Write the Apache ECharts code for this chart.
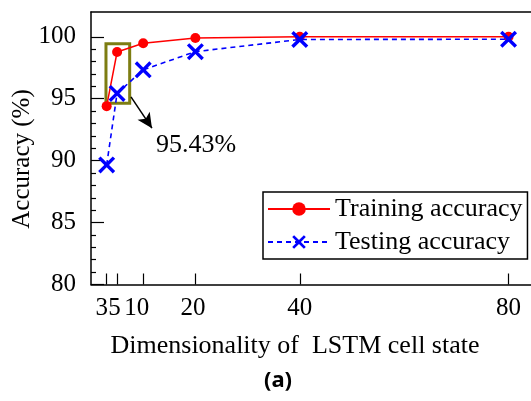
<!DOCTYPE html>
<html>
<head>
<meta charset="utf-8">
<script src="https://cdn.jsdelivr.net/npm/echarts@6/dist/echarts.min.js"></script>
<style>
  html, body { margin: 0; padding: 0; background: #fff; }
  #chart { width: 531px; height: 401px; }
</style>
</head>
<body>
<div id="chart"></div>
<script>
// LSTM cell-state dimensionality vs. accuracy
const dims = [3, 5, 10, 20, 40, 80];
const trainingAcc = [94.4, 98.77, 99.48, 99.9, 100, 100];
const testingAcc = [89.65, 95.43, 97.33, 98.8, 99.78, 99.8];
const xTickValues = [3, 5, 10, 20, 40, 80];
const yTickValues = [80, 85, 90, 95, 100];
const yMinorValues = [81, 82, 83, 84, 86, 87, 88, 89, 91, 92, 93, 94, 96, 97, 98, 99];
const highlightIndex = 1; // the 5-dimensional cell state

const serif = '"Liberation Serif", "Times New Roman", serif';
const olive = '#7d7d12';

// labels for the crowded small values are nudged left a little
const xLabelShift = { 3: 'l10', 5: 'l5', 10: 'l13', 20: 'l5' };

const xPath = 'path://M0,1.4L1.4,0L5,3.6L8.6,0L10,1.4L6.4,5L10,8.6L8.6,10L5,6.4L1.4,10L0,8.6L3.6,5Z';

const chart = echarts.init(document.getElementById('chart'), null, { renderer: 'canvas' });

const hx = dims[highlightIndex];
const hy = testingAcc[highlightIndex];

const labelRich = pad => ({ fontFamily: serif, fontSize: 25, color: '#000', padding: [0, pad, 0, 0] });

chart.setOption({
  animation: false,
  backgroundColor: '#fff',
  textStyle: { fontFamily: serif, color: '#000' },
  grid: { left: 91, top: 12, right: 0, bottom: 116.5 },
  xAxis: [{
    type: 'value', min: 0, max: 84.3,
    axisLine: { lineStyle: { color: '#000', width: 1.5 } },
    axisTick: { inside: true, length: 11, customValues: xTickValues, lineStyle: { color: '#000', width: 1.2 } },
    axisLabel: {
      customValues: xTickValues, margin: 11, color: '#000', fontFamily: serif, fontSize: 25,
      showMinLabel: true, showMaxLabel: true, hideOverlap: false,
      formatter: v => xLabelShift[v] ? '{' + xLabelShift[v] + '|' + v + '}' : String(v),
      rich: { l10: labelRich(10), l5: labelRich(5), l13: labelRich(13) }
    },
    splitLine: { show: false }
  }, {
    // plain frame line along the top
    type: 'value', min: 0, max: 84.3, position: 'top',
    axisLine: { show: true, lineStyle: { color: '#000', width: 1.5 } },
    axisTick: { show: false }, axisLabel: { show: false }, splitLine: { show: false }
  }],
  yAxis: [{
    type: 'value', min: 80, max: 102,
    axisLine: { show: true, lineStyle: { color: '#000', width: 1.5 } },
    axisTick: { inside: true, length: 13, customValues: yTickValues, lineStyle: { color: '#000', width: 1.2 } },
    axisLabel: { customValues: yTickValues, margin: 15, color: '#000', fontFamily: serif, fontSize: 25 },
    splitLine: { show: false }
  }, {
    // short minor ticks at every whole percent
    type: 'value', min: 80, max: 102, position: 'left',
    axisLine: { show: false },
    axisTick: { show: true, inside: true, length: 5, customValues: yMinorValues, lineStyle: { color: '#000', width: 1.2 } },
    axisLabel: { show: false },
    splitLine: { show: false }
  }],
  legend: {
    orient: 'vertical', left: 263, top: 192,
    padding: [4, 5, 4, 4], itemGap: 7,
    itemWidth: 62, itemHeight: 17,
    borderColor: '#000', borderWidth: 1.5, backgroundColor: '#fff',
    textStyle: { fontFamily: serif, fontSize: 26, color: '#000' },
    data: ['Training accuracy', 'Testing accuracy']
  },
  series: [{
    name: 'Training accuracy', type: 'line', z: 3,
    data: dims.map((d, i) => [d, trainingAcc[i]]),
    symbol: 'circle', symbolSize: 10,
    lineStyle: { color: '#ff0000', width: 1.5 },
    itemStyle: { color: '#ff0000' }
  }, {
    name: 'Testing accuracy', type: 'line', z: 4,
    data: dims.map((d, i) => [d, testingAcc[i]]),
    symbol: xPath, symbolSize: 17,
    lineStyle: { color: '#0000ff', width: 1.6, type: [5, 4] },
    itemStyle: { color: '#0000ff' },
    markArea: {
      silent: true,
      itemStyle: { color: 'rgba(0,0,0,0)', borderColor: olive, borderWidth: 3 },
      data: [[{ coord: [hx - 2.13, hy + 4.01] }, { coord: [hx + 2.41, hy - 0.79] }]]
    },
    markLine: {
      silent: true, symbol: ['none', 'arrow'], symbolSize: [11, 15],
      lineStyle: { color: '#000', width: 1.5, type: 'solid' },
      label: { show: false },
      data: [[{ coord: [hx + 2.66, hy - 0.28] }, { coord: [hx + 6.68, hy - 2.81] }]]
    }
  }],
  graphic: [{
    type: 'text', x: 196, y: 145,
    style: { text: hy.toFixed(2) + '%', font: '26px ' + serif, fill: '#000', align: 'center', verticalAlign: 'middle' }
  }, {
    type: 'text', x: 295, y: 346,
    style: { text: 'Dimensionality of  LSTM cell state', font: '26px ' + serif, fill: '#000', align: 'center', verticalAlign: 'middle' }
  }, {
    type: 'text', x: 22, y: 159, rotation: Math.PI / 2,
    style: { text: 'Accuracy (%)', font: '25px ' + serif, fill: '#000', align: 'center', verticalAlign: 'middle' }
  }, {
    type: 'text', x: 278, y: 381,
    style: { text: '(a)', font: 'bold 22px "Noto Sans", "DejaVu Sans", sans-serif', fill: '#000', align: 'center', verticalAlign: 'middle' }
  }]
});
</script>
</body>
</html>
